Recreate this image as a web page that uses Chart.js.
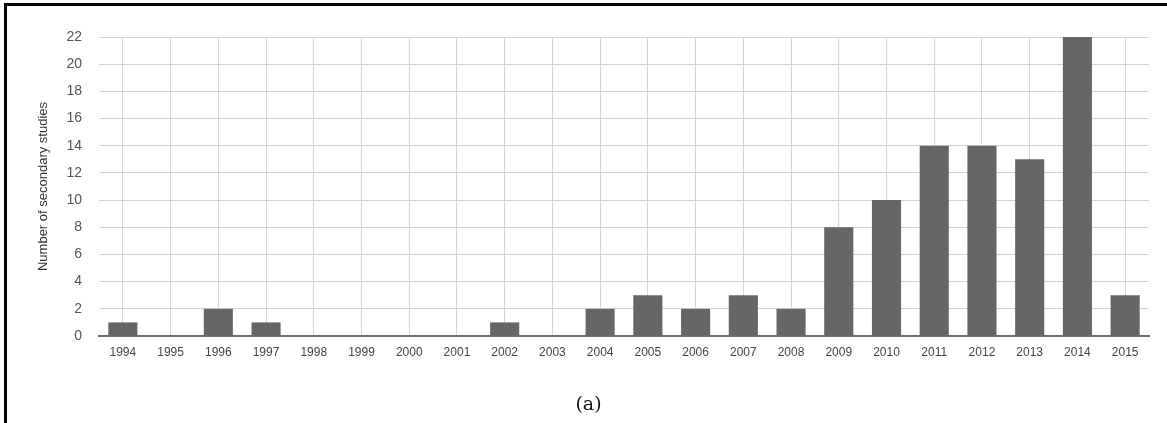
<!DOCTYPE html>
<html>
<head>
<meta charset="utf-8">
<script src="https://cdn.jsdelivr.net/npm/chart.js@4/dist/chart.umd.min.js"></script>
<style>
    html, body { margin: 0; padding: 0; background: #fff; }
    #wrap { position: relative; width: 1167px; height: 423px; overflow: hidden; }
    #frame {
        position: absolute; left: 4px; top: 3px; right: -10px; bottom: -10px;
        border-left: 3px solid #000; border-top: 3px solid #000;
    }
    #caption {
        position: absolute; left: 0; width: 1177px; top: 394px; line-height: 1;
        text-align: center; font-family: "DejaVu Serif", serif; font-size: 19px; color: #111;
    }
    canvas { position: absolute; left: 0; top: 0; }
</style>
</head>
<body>
<div id="wrap">
    <canvas id="chart" width="1167" height="423"></canvas>
    <div id="frame"></div>
    <div id="caption">(a)</div>
</div>
<script>
const years = ['1994', '1995', '1996', '1997', '1998', '1999', '2000', '2001', '2002', '2003', '2004',
    '2005', '2006', '2007', '2008', '2009', '2010', '2011', '2012', '2013', '2014', '2015'];
const studies = [1, 0, 2, 1, 0, 0, 0, 0, 1, 0, 2, 3, 2, 3, 2, 8, 10, 14, 14, 13, 22, 3];
const yMax = 22;
const yStep = 2;

const canvasElement = document.getElementById('chart');

new Chart(canvasElement, {
    type: 'bar',
    data: {
        labels: years,
        datasets: [{
            data: studies,
            backgroundColor: '#666666',
            borderWidth: 0,
            categoryPercentage: 1,
            barPercentage: 0.61
        }]
    },
    options: {
        responsive: false,
        animation: false,
        layout: {
            padding: { top: 37, right: 18, bottom: 0, left: 0 }
        },
        scales: {
            x: {
                afterFit: (scale) => { scale.height = 87; },
                grid: { offset: false, color: '#d4d4d4', drawTicks: false },
                border: { display: true, color: '#6e6e6e', width: 2 },
                ticks: {
                    padding: 9,
                    color: '#444',
                    font: { family: 'Liberation Sans', size: 12 },
                    maxRotation: 0,
                    autoSkip: false
                }
            },
            y: {
                min: 0,
                max: yMax,
                afterFit: (scale) => { scale.width = 99; },
                grid: { color: '#d4d4d4', drawTicks: false },
                border: { display: false },
                ticks: {
                    stepSize: yStep,
                    padding: 17,
                    color: '#555',
                    font: { family: 'Liberation Sans', size: 14 }
                },
                title: {
                    display: true,
                    text: 'Number of secondary studies',
                    color: '#333',
                    font: { family: 'Liberation Sans', size: 13 },
                    padding: { top: 36, bottom: 0 }
                }
            }
        },
        plugins: {
            legend: { display: false },
            tooltip: { enabled: false }
        }
    }
});
</script>
</body>
</html>
